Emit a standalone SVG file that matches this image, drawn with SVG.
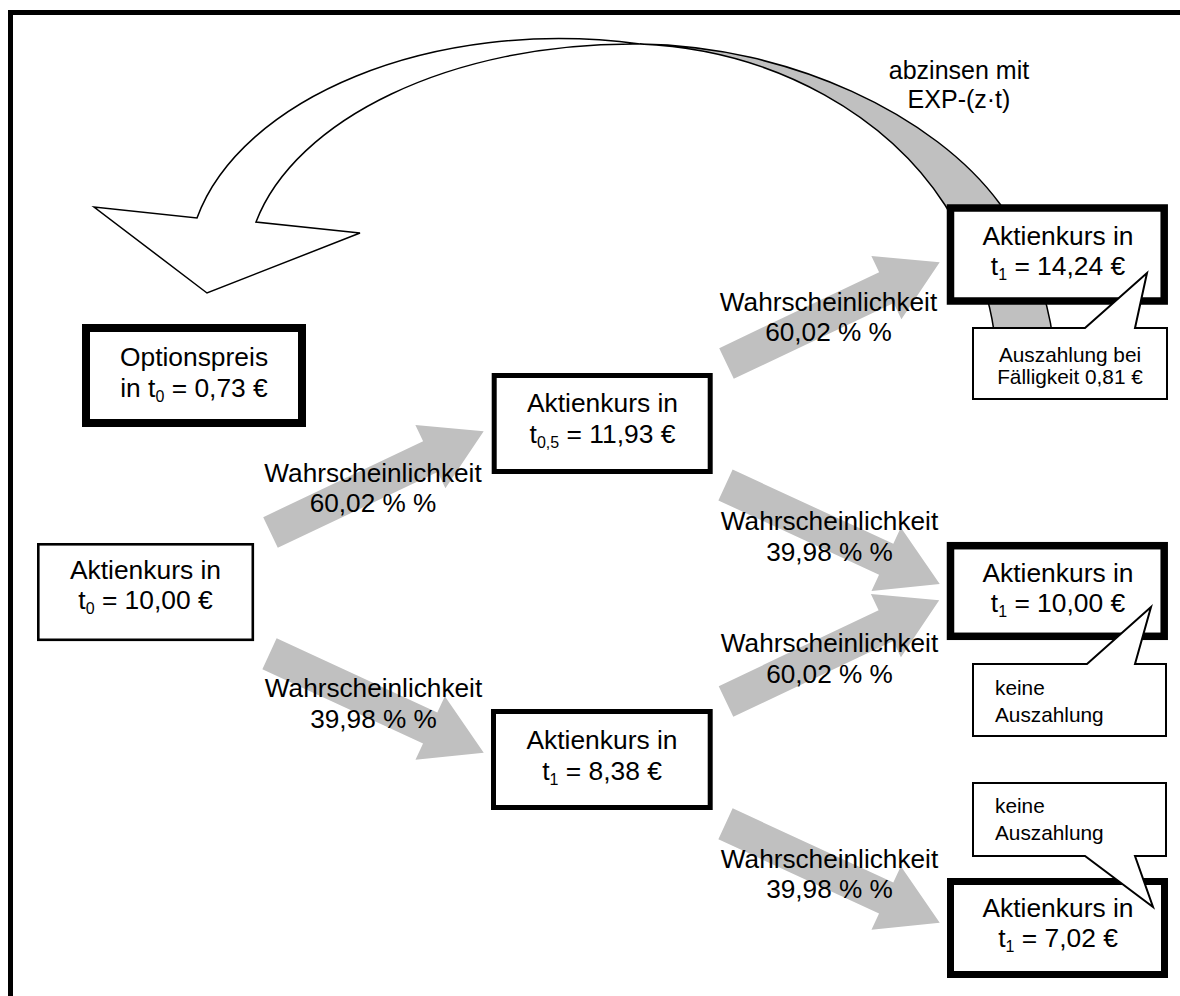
<svg xmlns="http://www.w3.org/2000/svg" width="1180" height="996" viewBox="0 0 1180 996">
  <style>
    text { font-family: "Liberation Sans", Arial, Helvetica, sans-serif; fill: #000; }
    .big { font-size: 26.4px; text-anchor: middle; }
    .lbl { font-size: 26.2px; text-anchor: middle; }
    .arc-lbl { font-size: 25px; text-anchor: middle; }
    .note { font-size: 20.8px; }
    .sub { font-size: 16px; }
    .box { fill: #fff; stroke: #000; }
    .flow { fill: #c0c0c0; stroke: none; }
    .callout { fill: #fff; stroke: #000; stroke-width: 2; stroke-linejoin: miter; }
  </style>
  <defs>
    <!-- block arrow pointing along +x, tail at the origin -->
    <path id="blockArrow" d="M0,-17 L177,-17 L177,-35 L236,0 L177,35 L177,17 L0,17 Z"/>
  </defs>

  <rect x="0" y="0" width="1180" height="996" fill="#fff"/>

  <!-- outer frame -->
  <path d="M10.5,1000 V12.5 H1190" fill="none" stroke="#000" stroke-width="5"/>

  <!-- discounting arrow: grey back face and white front face -->
  <g id="discount-arrow">
    <path d="M640,44 C790,46 935,115 1000,204 C1028,245 1048,295 1053,340 L995,340 C990,290 970,245 945,205 C890,120 780,50 640,44 Z" fill="#c0c0c0" stroke="#000" stroke-width="1.5"/>
    <path d="M640,44 C430,16 240,100 197,218 L94,207 L207,293 L360,233 L256,222 C295,120 450,42 640,44 Z" fill="#fff" stroke="#000" stroke-width="1.5" stroke-linejoin="miter"/>
  </g>
  <g id="discount-label">
    <text class="arc-lbl" x="959" y="79">abzinsen mit</text>
    <text class="arc-lbl" x="959" y="108">EXP-(z·t)</text>
  </g>

  <!-- connectors -->
  <g id="connectors" class="flow">
    <use href="#blockArrow" transform="translate(270.5,532.5) rotate(-25.4)"/>
    <use href="#blockArrow" transform="translate(269.5,653.8) rotate(24.8)"/>
    <use href="#blockArrow" transform="translate(726.5,363.5) rotate(-25.4)"/>
    <use href="#blockArrow" transform="translate(725.5,485) rotate(24.8)"/>
    <use href="#blockArrow" transform="translate(726,701.5) rotate(-25.4)"/>
    <use href="#blockArrow" transform="translate(725.5,823.8) rotate(24.8)"/>
  </g>

  <!-- probability labels -->
  <g id="labels">
    <text class="lbl" x="373" y="482">Wahrscheinlichkeit</text>
    <text class="lbl" x="373" y="512">60,02 % %</text>
    <text class="lbl" x="373.5" y="697">Wahrscheinlichkeit</text>
    <text class="lbl" x="373.5" y="728">39,98 % %</text>
    <text class="lbl" x="828.5" y="311">Wahrscheinlichkeit</text>
    <text class="lbl" x="828.5" y="341">60,02 % %</text>
    <text class="lbl" x="829.5" y="530">Wahrscheinlichkeit</text>
    <text class="lbl" x="829.5" y="561">39,98 % %</text>
    <text class="lbl" x="829.5" y="652">Wahrscheinlichkeit</text>
    <text class="lbl" x="829.5" y="683">60,02 % %</text>
    <text class="lbl" x="829.5" y="868">Wahrscheinlichkeit</text>
    <text class="lbl" x="829.5" y="898">39,98 % %</text>
  </g>

  <!-- nodes -->
  <g id="option-price">
    <rect class="box" x="86" y="328" width="216" height="95" stroke-width="8"/>
    <text class="big" x="194" y="366">Optionspreis</text>
    <text class="big" x="194" y="397">in t<tspan class="sub" dy="5">0</tspan><tspan dy="-5"> = 0,73 €</tspan></text>
  </g>

  <g id="price-t0">
    <rect class="box" x="38.3" y="544.3" width="214.5" height="95.5" stroke-width="2.6"/>
    <text class="big" x="145.5" y="579">Aktienkurs in</text>
    <text class="big" x="145.5" y="609">t<tspan class="sub" dy="5">0</tspan><tspan dy="-5"> = 10,00 €</tspan></text>
  </g>

  <g id="price-t05">
    <rect class="box" x="494.2" y="375.5" width="216" height="96" stroke-width="5"/>
    <text class="big" x="602.5" y="412">Aktienkurs in</text>
    <text class="big" x="602.5" y="443">t<tspan class="sub" dy="5">0,5</tspan><tspan dy="-5"> = 11,93 €</tspan></text>
  </g>

  <g id="price-t1-down">
    <rect class="box" x="493.5" y="711.5" width="216.7" height="96" stroke-width="5"/>
    <text class="big" x="602" y="749">Aktienkurs in</text>
    <text class="big" x="602" y="780">t<tspan class="sub" dy="5">1</tspan><tspan dy="-5"> = 8,38 €</tspan></text>
  </g>

  <g id="price-t1-up">
    <rect class="box" x="950.5" y="208" width="213.7" height="93" stroke-width="7.5"/>
    <text class="big" x="1058" y="245">Aktienkurs in</text>
    <text class="big" x="1058" y="275">t<tspan class="sub" dy="5">1</tspan><tspan dy="-5"> = 14,24 €</tspan></text>
  </g>

  <g id="price-t1-mid">
    <rect class="box" x="950.5" y="545.7" width="213.7" height="90.6" stroke-width="7.5"/>
    <text class="big" x="1058" y="582">Aktienkurs in</text>
    <text class="big" x="1058" y="612">t<tspan class="sub" dy="5">1</tspan><tspan dy="-5"> = 10,00 €</tspan></text>
  </g>

  <g id="price-t1-low">
    <rect class="box" x="950.5" y="881.5" width="214" height="93" stroke-width="7"/>
    <text class="big" x="1058" y="917">Aktienkurs in</text>
    <text class="big" x="1058" y="947">t<tspan class="sub" dy="5">1</tspan><tspan dy="-5"> = 7,02 €</tspan></text>
  </g>

  <!-- payoff callouts -->
  <g id="payoff-up">
    <path class="callout" d="M973,328 H1085 L1147,273 L1135,328 H1167 V399 H973 Z"/>
    <text class="note" x="1070" y="362" text-anchor="middle">Auszahlung bei</text>
    <text class="note" x="1070" y="384" text-anchor="middle">Fälligkeit 0,81 €</text>
  </g>

  <g id="payoff-mid">
    <path class="callout" d="M973,664 H1087 L1151,607 L1135,664 H1166 V736 H973 Z"/>
    <text class="note" x="995" y="695">keine</text>
    <text class="note" x="995" y="722">Auszahlung</text>
  </g>

  <g id="payoff-low">
    <path class="callout" d="M973,783 H1166 V856 H1135 L1153,907 L1085,856 H973 Z"/>
    <text class="note" x="995" y="813">keine</text>
    <text class="note" x="995" y="840">Auszahlung</text>
  </g>
</svg>
